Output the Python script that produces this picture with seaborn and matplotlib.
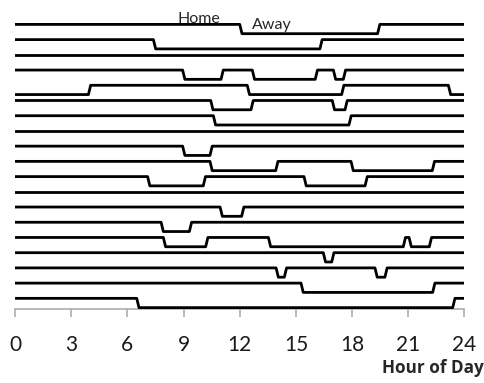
import numpy as np
import pandas as pd
import matplotlib
matplotlib.use("Agg")
import matplotlib.pyplot as plt
import seaborn as sns

# ---- data ----
# each row (top to bottom): state at midnight and the hours at which it switches
row_start = ["home", "home", "home", "home", "away", "home", "home", "home", "home", "home",
             "home", "home", "home", "home", "home", "home", "home", "home", "home"]
row_switches = [
    [12.0, 19.36],
    [7.39, 16.28],
    [],
    [8.95, 11.0, 12.67, 16.03, 17.0, 17.53],
    [3.92, 12.4, 17.44, 23.14],
    [10.45, 12.6, 16.94, 17.62],
    [10.59, 17.83],
    [],
    [8.95, 10.41],
    [10.41, 13.92, 17.94, 22.28],
    [7.08, 10.05, 15.43, 18.69],
    [],
    [10.95, 12.1],
    [7.8, 9.31],
    [7.92, 10.18, 13.53, 20.73, 21.04, 22.12],
    [16.46, 16.91],
    [13.94, 14.38, 19.22, 19.75],
    [15.27, 22.3],
    [6.5, 23.37],
]
x_ticks = [0, 3, 6, 9, 12, 15, 18, 21, 24]
x_label = "Hour of Day"
home_label = "Home"
away_label = "Away"

# ---- build the step lines ----
HOME_OFF, AWAY_OFF, RAMP = 0.70, 0.09, 0.12
n = len(row_switches)
recs = []
for i, (st, sw) in enumerate(zip(row_start, row_switches)):
    base = n - 1 - i
    lv = {"home": base + HOME_OFF, "away": base + AWAY_OFF}
    state = st
    recs.append((i, 0.0, lv[state]))
    for t in sw:
        recs.append((i, t, lv[state]))
        state = "away" if state == "home" else "home"
        recs.append((i, t + RAMP, lv[state]))
    recs.append((i, 24.0, lv[state]))
df = pd.DataFrame(recs, columns=["row", "hour", "level"])

sns.set_style("white")
plt.rcParams["font.family"] = ["Lato", "DejaVu Sans"]

fig = plt.figure(figsize=(4.85, 3.83), dpi=100)
ax = fig.add_axes([15 / 485, 74 / 383, 449.5 / 485, 298.3 / 383])
sns.lineplot(data=df, x="hour", y="level", units="row", estimator=None,
             color="black", linewidth=2.0, ax=ax, legend=False)

ax.set_xlim(0, 24)
ax.set_ylim(0, 19.6)
ax.set_xticks(x_ticks)
ax.set_xticklabels([str(t) for t in x_ticks], fontsize=15, color="#1a1a1a")
ax.set_yticks([])
ax.set_xlabel("")
ax.set_ylabel("")
for s in ["left", "top", "right"]:
    ax.spines[s].set_visible(False)
ax.spines["bottom"].set_color("#a6a6a6")
ax.spines["bottom"].set_linewidth(1.1)
ax.spines["bottom"].set_zorder(0)
ax.tick_params(axis="x", direction="out", length=5.5, width=1.1, color="#a6a6a6", pad=13.5,
               bottom=True)

top = n - 1
ax.text(9.8, top + 0.77, home_label, ha="center", va="baseline", fontsize=11.5)
ax.text(13.73, top + 0.37, away_label, ha="center", va="baseline", fontsize=11.5)
fig.text(483.5 / 485, 1 - 373.3 / 383, x_label, ha="right", va="baseline", fontsize=12.3,
         fontweight="bold", family=["Open Sans", "DejaVu Sans"])

fig.savefig("out.png", dpi=100)
